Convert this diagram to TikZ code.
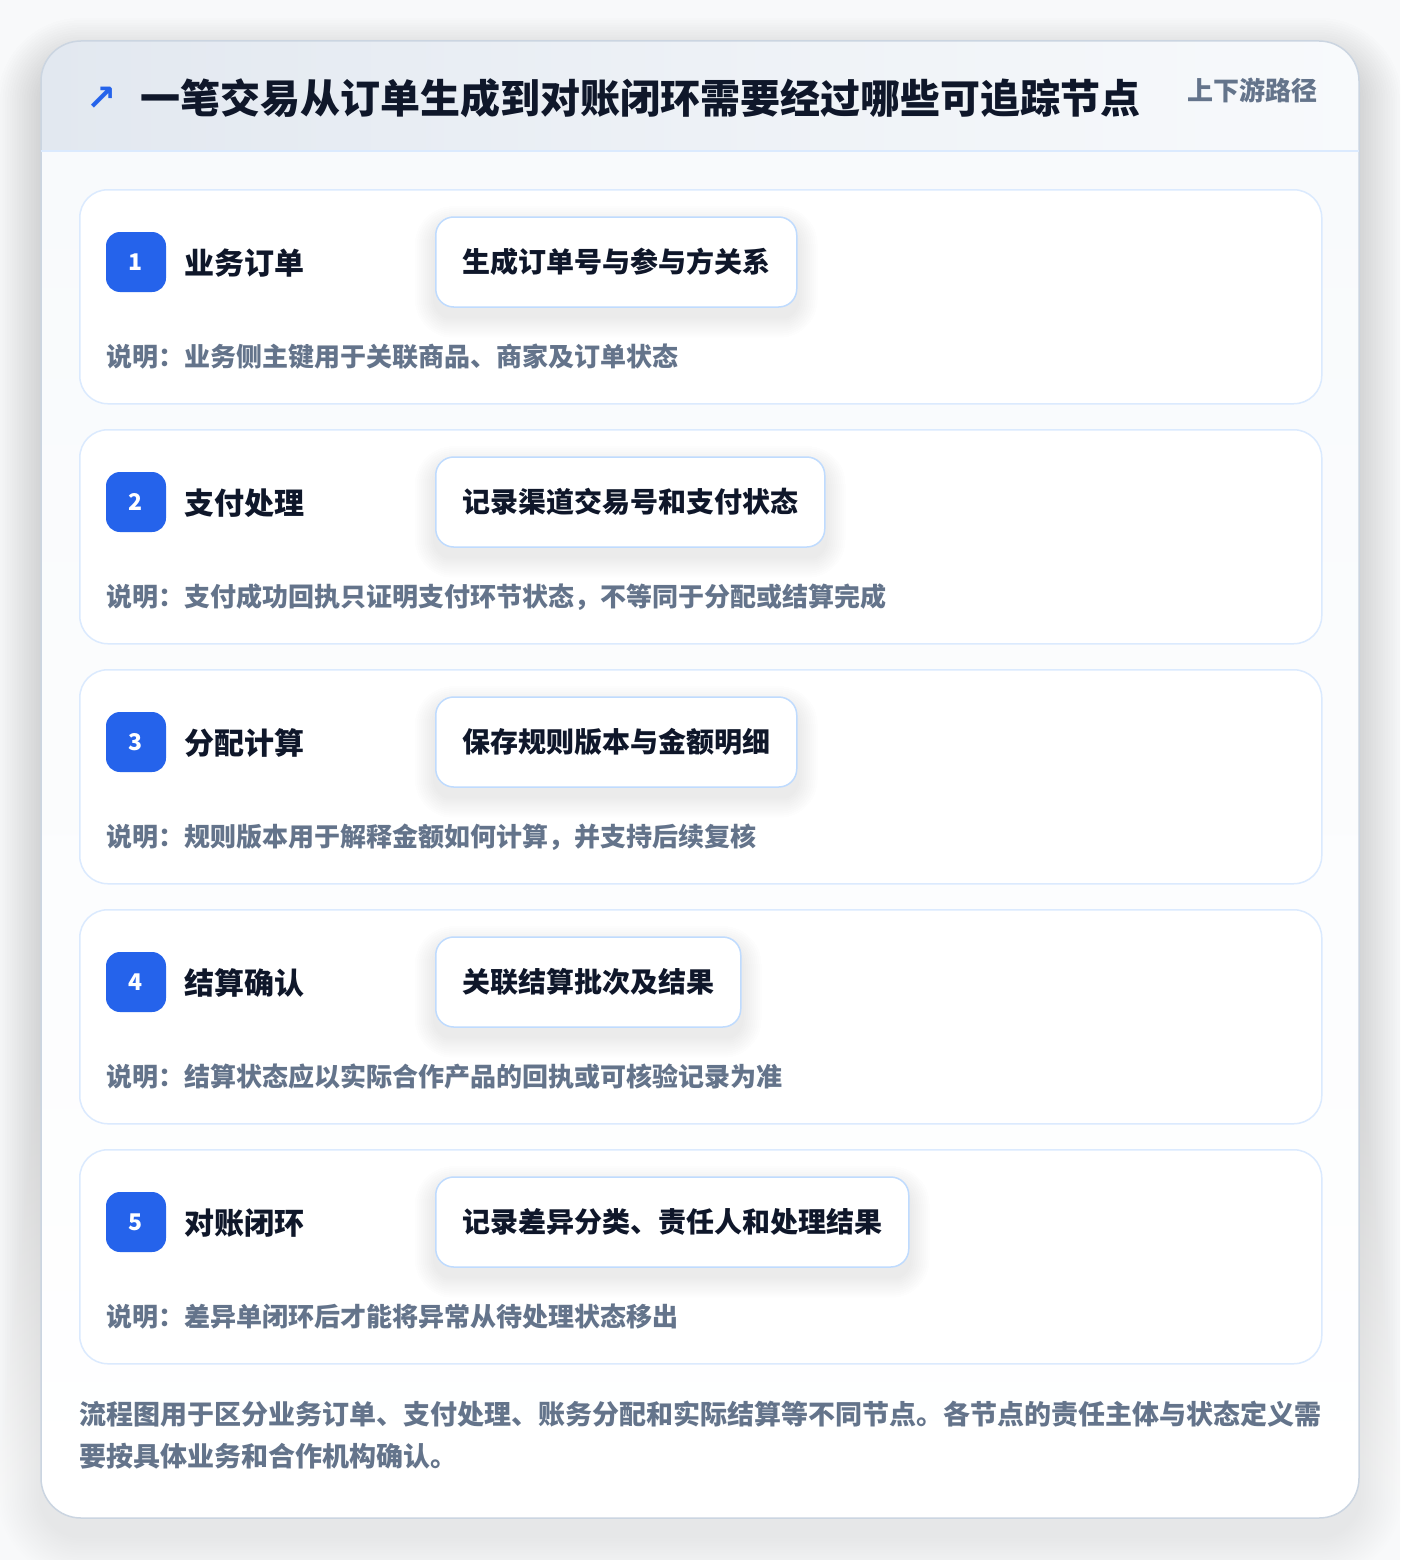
\documentclass[tikz,border=0pt]{standalone}
\usepackage{fontspec}
\setmainfont{Noto Sans CJK SC}
\newfontfamily\symfont{DejaVu Sans}
\definecolor{pagebg}{HTML}{F8F9FA}
\definecolor{ink}{HTML}{0F172A}
\definecolor{muted}{HTML}{64748B}
\definecolor{accent}{HTML}{2563EB}
\definecolor{rowline}{HTML}{DBEAFE}
\definecolor{boxline}{HTML}{BFDBFE}
\definecolor{cardline}{HTML}{CBD5E1}
\definecolor{hdrL}{HTML}{E2E8F0}
\definecolor{hdrR}{HTML}{F8FAFC}
\definecolor{bodybg}{HTML}{F8FAFC}
\definecolor{shade}{HTML}{334155}
\pgfdeclarelayer{mid}
\pgfdeclarelayer{top}
\pgfsetlayers{main,mid,top}
\tikzset{
  rowcard/.style={draw=rowline, line width=1.5pt, fill=white, rounded corners=28pt,
    minimum width=1242pt, minimum height=214pt, anchor=north west, inner sep=0pt},
  badge/.style={fill=accent, rounded corners=14pt, minimum size=60pt, inner sep=0pt,
    text=white, font=\bfseries\fontsize{23}{27}\selectfont},
  lab/.style={anchor=west, inner sep=0pt, text=ink, font=\bfseries\fontsize{30}{36}\selectfont},
  stepbox/.style={anchor=west, draw=boxline, line width=1.5pt, fill=white, rounded corners=18pt,
    minimum height=90pt, inner xsep=26.5pt, inner ysep=0pt, text=ink,
    font=\bfseries\fontsize{28}{34}\selectfont},
  desc/.style={anchor=west, inner sep=0pt, text=muted, font=\bfseries\fontsize{26}{31}\selectfont},
  foot/.style={anchor=west, inner sep=0pt, text=muted, font=\bfseries\fontsize{27}{32}\selectfont},
}
\begin{document}
\begin{tikzpicture}[x=1pt,y=-1pt]
\useasboundingbox (0,0) rectangle (1400,1560);
\fill[pagebg] (0,0) rectangle (1400,1560);
% card shadow
\foreach \k in {1,...,18}{
  \pgfmathsetmacro\e{2.4*\k}
  \pgfmathsetmacro\r{40+\e}
  \fill[shade, opacity=0.0045, rounded corners=\r pt] (41-\e,61-\e) rectangle (1359+\e,1536+\e);
}
% card
\coordinate (cardNW) at (41,41);
\coordinate (cardSE) at (1359,1518);
\begin{scope}
  \clip[rounded corners=40pt] (cardNW) rectangle (cardSE);
  \shade[top color=bodybg, bottom color=white] (41,151) rectangle (1359,1518);
  \shade[left color=hdrL, right color=hdrR] (41,41) rectangle (1359,151);
\end{scope}
\draw[cardline, line width=1.5pt, rounded corners=40pt] (cardNW) rectangle (cardSE);
\coordinate (hl) at (41,151);
\coordinate (hr) at (1359,151);
\draw[rowline, line width=1.5pt] (hl) -- (hr);
% header
\node[anchor=center, inner sep=0pt, text=accent, font=\symfont\bfseries\fontsize{36}{40}\selectfont] (icon) at (102,99) {↗};
\node[anchor=west, inner sep=0pt, text=ink, font=\bfseries\fontsize{40}{48}\selectfont] (title) at (140,98) {一笔交易从订单生成到对账闭环需要经过哪些可追踪节点};
\node[anchor=east, inner sep=0pt, text=muted, font=\bfseries\fontsize{26}{31}\selectfont] (tag) at (1318,90) {上下游路径};
% rows
\foreach \i/\lab/\act/\desc in {
  1/业务订单/生成订单号与参与方关系/说明：业务侧主键用于关联商品、商家及订单状态,
  2/支付处理/记录渠道交易号和支付状态/说明：支付成功回执只证明支付环节状态，不等同于分配或结算完成,
  3/分配计算/保存规则版本与金额明细/说明：规则版本用于解释金额如何计算，并支持后续复核,
  4/结算确认/关联结算批次及结果/说明：结算状态应以实际合作产品的回执或可核验记录为准,
  5/对账闭环/记录差异分类、责任人和处理结果/说明：差异单闭环后才能将异常从待处理状态移出}{
  \pgfmathsetmacro\top{189+(\i-1)*240}
  \pgfmathsetmacro\cy{262+(\i-1)*240}
  \node[rowcard] (row\i) at (79,\top) {};
  \node[badge] (b\i) at (136,\cy) {\i};
  \node[lab] (l\i) at (184,\cy+1) {\lab};
  \begin{pgfonlayer}{top}
    \node[stepbox] (s\i) at (435,\cy) {\act};
  \end{pgfonlayer}
  \begin{pgfonlayer}{mid}
    \foreach \k in {1,...,10}{
      \pgfmathsetmacro\e{2*\k}
      \pgfmathsetmacro\r{18+\e}
      \fill[shade, opacity=0.0045, rounded corners=\r pt]
        ([xshift=-\e pt, yshift=-10pt+\e pt]s\i.north west) rectangle ([xshift=\e pt, yshift=-10pt-\e pt]s\i.south east);
    }
  \end{pgfonlayer}
  \node[desc] (d\i) at (106,\cy+95) {\desc};
}
% footer
\node[foot] (f1) at (79,1414) {流程图用于区分业务订单、支付处理、账务分配和实际结算等不同节点。各节点的责任主体与状态定义需};
\node[foot] (f2) at (79,1456) {要按具体业务和合作机构确认。};
\end{tikzpicture}
\end{document}
